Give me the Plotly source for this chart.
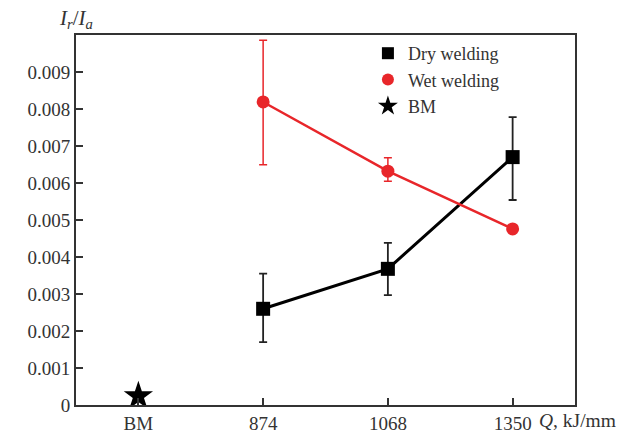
import plotly.graph_objects as go

categories = ["BM", "874", "1068", "1350"]
dry_x = [1, 2, 3]
dry_y = [0.0026, 0.00368, 0.0067]
dry_err_plus = [0.00095, 0.0007, 0.00108]
dry_err_minus = [0.0009, 0.00071, 0.00116]
wet_x = [1, 2, 3]
wet_y = [0.00819, 0.00632, 0.00476]
wet_err_plus = [0.00167, 0.00036, 0.0]
wet_err_minus = [0.0017, 0.00027, 0.0]
bm_x = [0]
bm_y = [0.00024]
y_ticks = [0, 0.001, 0.002, 0.003, 0.004, 0.005, 0.006, 0.007, 0.008, 0.009]
y_ticktext = ["0", "0.001", "0.002", "0.003", "0.004", "0.005", "0.006", "0.007", "0.008", "0.009"]

FONT = "Liberation Serif, Times New Roman, serif"
RED = "#e8262a"
INK = "#333333"

fig = go.Figure()
fig.add_trace(go.Scatter(
    x=dry_x, y=dry_y, mode="lines+markers", name="Dry welding", showlegend=False,
    line=dict(color="black", width=3),
    marker=dict(symbol="square", size=14, color="black"),
    error_y=dict(type="data", symmetric=False, array=dry_err_plus, arrayminus=dry_err_minus,
                 color="#222", thickness=1.8, width=4),
))
fig.add_trace(go.Scatter(
    x=wet_x, y=wet_y, mode="lines+markers", name="Wet welding", showlegend=False,
    line=dict(color=RED, width=2.5),
    marker=dict(symbol="circle", size=13, color=RED),
    error_y=dict(type="data", symmetric=False, array=wet_err_plus, arrayminus=wet_err_minus,
                 color=RED, thickness=1.5, width=4),
))
fig.add_trace(go.Scatter(
    x=bm_x, y=bm_y, mode="markers", name="BM", showlegend=False,
    marker=dict(symbol="star", size=22, color="black"),
))
# legend entries (markers only, as in the reference)
fig.add_trace(go.Scatter(x=[None], y=[None], mode="markers", name="Dry welding",
                         marker=dict(symbol="square", size=12, color="black")))
fig.add_trace(go.Scatter(x=[None], y=[None], mode="markers", name="Wet welding",
                         marker=dict(symbol="circle", size=12, color=RED)))
fig.add_trace(go.Scatter(x=[None], y=[None], mode="markers", name="BM",
                         marker=dict(symbol="star", size=15, color="black")))

fig.update_layout(
    width=633, height=438,
    margin=dict(l=76, r=58, t=35, b=33, autoexpand=False),
    paper_bgcolor="white", plot_bgcolor="white",
    font=dict(family=FONT, size=19, color=INK),
    showlegend=True,
    legend=dict(x=0.585, y=1.0, xanchor="left", yanchor="top",
                bgcolor="rgba(0,0,0,0)", font=dict(family=FONT, size=18, color=INK),
                itemsizing="trace", tracegroupgap=0),
)
fig.update_xaxes(
    range=[-0.5, 3.5], tickmode="array", tickvals=[0, 1, 2, 3], ticktext=categories,
    showgrid=False, zeroline=False, showline=True, linecolor=INK, linewidth=2,
    mirror=True, ticks="inside", ticklen=7, tickwidth=1.8, tickcolor=INK, automargin=False,
    tickfont=dict(family=FONT, size=19, color=INK),
)
fig.update_yaxes(
    range=[0, 0.01], tickmode="array", tickvals=y_ticks, ticktext=y_ticktext,
    showgrid=False, zeroline=False, showline=True, linecolor=INK, linewidth=2,
    mirror=True, ticks="inside", ticklen=7, tickwidth=1.8, tickcolor=INK, automargin=False,
    tickfont=dict(family=FONT, size=19, color=INK),
)
fig.add_annotation(
    text="<i>I</i><sub><i>r</i></sub>/<i>I</i><sub><i>a</i></sub>", xref="paper", yref="paper",
    x=0.0, y=1.0, xanchor="center", yanchor="bottom", showarrow=False, yshift=1,
    font=dict(family=FONT, size=21, color=INK),
)
fig.add_annotation(
    text="<i>Q</i>, kJ/mm", xref="paper", yref="paper",
    x=0.924, y=0, xanchor="left", yanchor="top", showarrow=False, yshift=-3,
    font=dict(family=FONT, size=19.5, color=INK),
)
fig.write_html("out.html")
